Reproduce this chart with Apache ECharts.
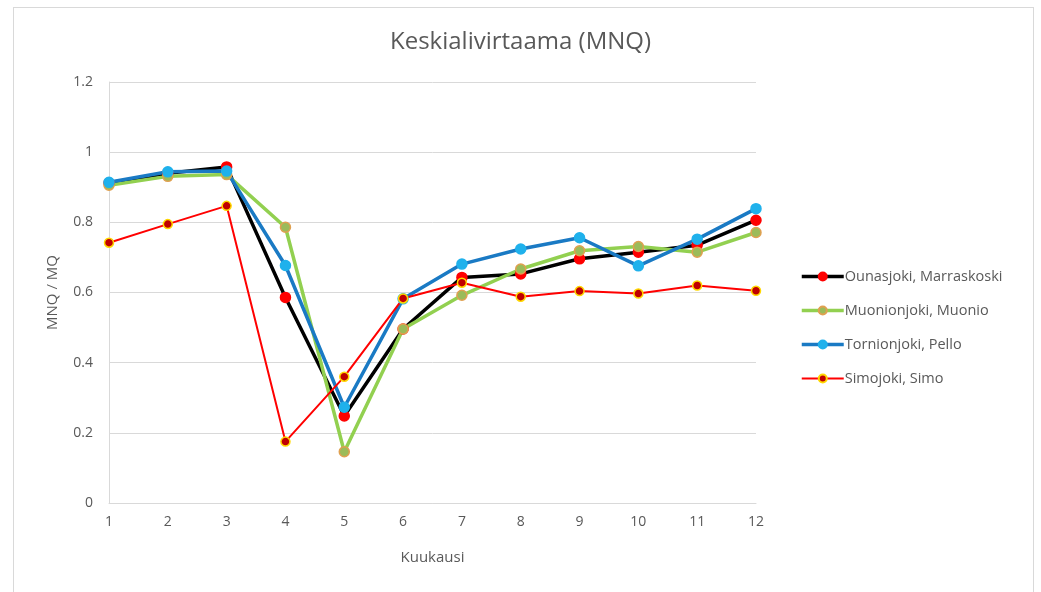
<!DOCTYPE html>
<html>
<head>
<meta charset="utf-8">
<script src="https://cdn.jsdelivr.net/npm/echarts@6/dist/echarts.min.js"></script>
<style>
html,body{margin:0;padding:0;background:#fff;}
#frame{position:absolute;left:13px;top:7px;width:1021px;height:600px;border:1px solid #d9d9d9;box-sizing:border-box;}
#chart{position:absolute;left:0;top:0;width:1041px;height:592px;}
</style>
</head>
<body>
<div id="frame"></div>
<div id="chart"></div>
<script>
const months = ['1','2','3','4','5','6','7','8','9','10','11','12'];
const seriesNames = ['Ounasjoki, Marraskoski','Muonionjoki, Muonio','Tornionjoki, Pello','Simojoki, Simo'];
const ounasjoki = [0.912, 0.940, 0.958, 0.586, 0.248, 0.496, 0.643, 0.653, 0.696, 0.715, 0.735, 0.806];
const muonionjoki = [0.906, 0.931, 0.936, 0.786, 0.146, 0.496, 0.592, 0.667, 0.719, 0.731, 0.715, 0.771];
const tornionjoki = [0.914, 0.944, 0.946, 0.677, 0.273, 0.582, 0.681, 0.724, 0.756, 0.676, 0.752, 0.839];
const simojoki = [0.742, 0.795, 0.847, 0.175, 0.360, 0.583, 0.628, 0.588, 0.604, 0.597, 0.620, 0.605];
const yTicks = [0, 0.2, 0.4, 0.6, 0.8, 1, 1.2];

const FONT = 'Open Sans';
const chart = echarts.init(document.getElementById('chart'), null, {renderer:'canvas'});
const styles = [
  {line:'#000000', width:3.5, fill:'#ff0000', border:'#ff0000', size:10},
  {line:'#92d050', width:3.5, fill:'#9bbb59', border:'#e0a050', size:10},
  {line:'#1a7ac4', width:3.5, fill:'#1fb1ec', border:'#1fb1ec', size:10},
  {line:'#ff0000', width:2, fill:'#c00000', border:'#ffd800', size:9}
];
const dataSets = [ounasjoki, muonionjoki, tornionjoki, simojoki];
chart.setOption({
  animation:false,
  title:{text:'Keskialivirtaama (MNQ)', left:'center', top:25,
    textStyle:{fontFamily:FONT, fontSize:24, fontWeight:'normal', color:'#595959'}},
  grid:{left:109, right:285, top:82, bottom:89, containLabel:false},
  legend:{orient:'vertical', left:795, top:264, itemWidth:42, itemHeight:10, itemGap:19,
    textStyle:{fontFamily:FONT, fontSize:14.5, color:'#595959', padding:[0,0,0,-4]},
    data:seriesNames.map((n,i)=>({name:n, lineStyle:{width:styles[i].width}}))},
  xAxis:{type:'category', data:months, boundaryGap:false,
    axisLine:{show:true, lineStyle:{color:'#d9d9d9', width:1}},
    axisTick:{show:false},
    axisLabel:{fontFamily:FONT, fontSize:14, color:'#595959', margin:12},
    splitLine:{show:false},
    name:'Kuukausi', nameLocation:'middle', nameGap:47,
    nameTextStyle:{fontFamily:FONT, fontSize:15, color:'#595959'}},
  yAxis:{type:'value', min:0, max:1.2, interval:0.2,
    axisLine:{show:true, lineStyle:{color:'#d9d9d9', width:1}},
    axisTick:{show:false},
    axisLabel:{fontFamily:FONT, fontSize:14, color:'#595959', margin:16,
      formatter:v=>String(Math.round(v*10)/10)},
    splitLine:{show:true, lineStyle:{color:'#d9d9d9', width:1}},
    name:'MNQ / MQ', nameLocation:'middle', nameGap:49, nameRotate:90,
    nameTextStyle:{fontFamily:FONT, fontSize:15, color:'#595959'}},
  series:dataSets.map((d,i)=>({
    name:seriesNames[i], type:'line', data:d,
    symbol:'circle', symbolSize:styles[i].size,
    lineStyle:{color:styles[i].line, width:styles[i].width},
    itemStyle:{color:styles[i].fill, borderColor:styles[i].border, borderWidth:1.5},
    emphasis:{disabled:true}
  }))
});
</script>
</body>
</html>
